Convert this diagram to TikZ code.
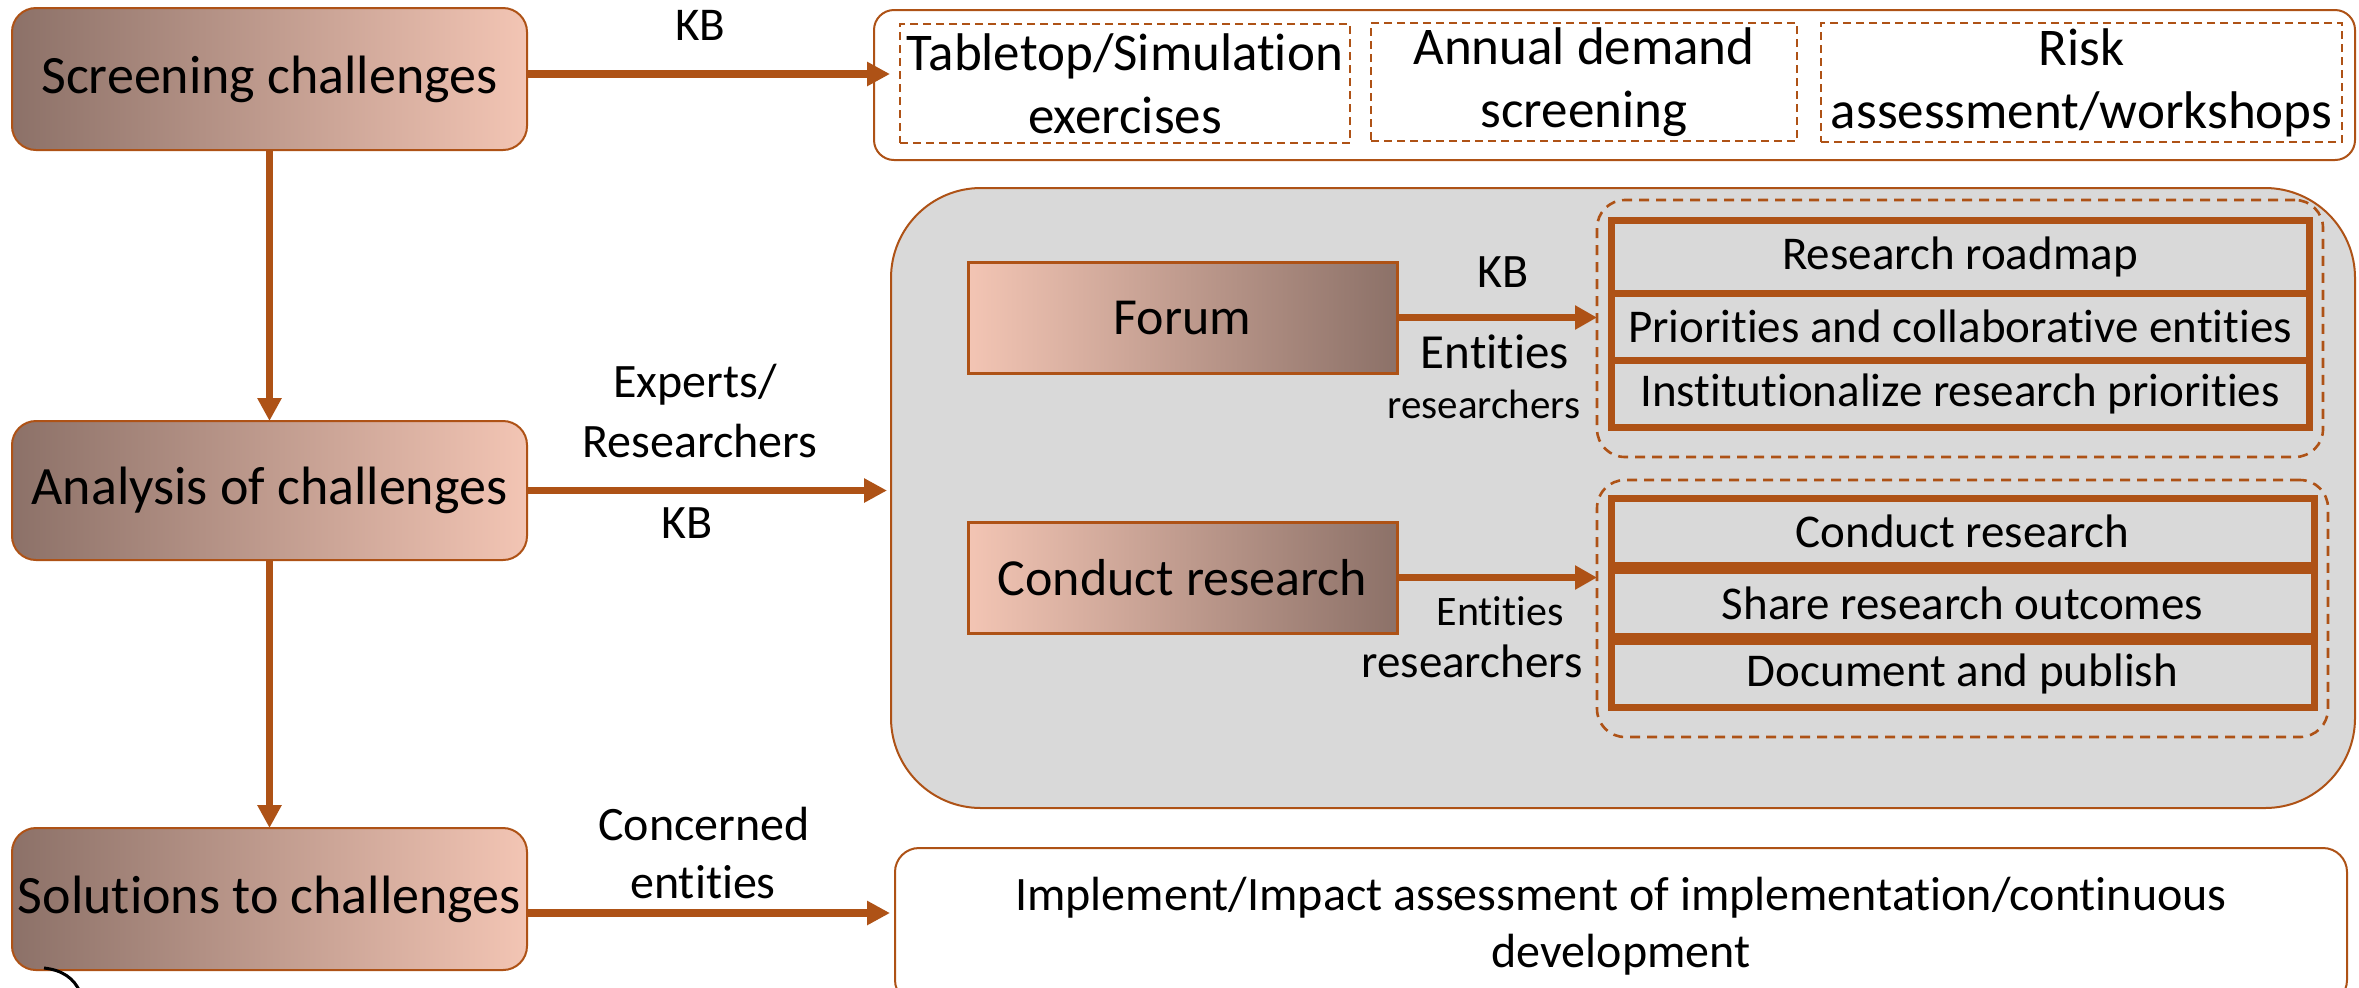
\documentclass[tikz,border=0pt]{standalone}
\usepackage{fontspec}
\setmainfont{Carlito}[Ligatures=NoCommon]
\usetikzlibrary{arrows.meta}
\definecolor{brn}{RGB}{174,82,22}
\definecolor{dk}{RGB}{140,113,104}
\definecolor{lt}{RGB}{243,197,180}
\definecolor{gr}{RGB}{217,217,217}
\begin{document}
\begin{tikzpicture}[x=0.5pt,y=-0.5pt,
 box/.style 2 args={inner sep=0pt,outer sep=0pt,minimum width=#1,minimum height=#2,anchor=center},
 leftbox/.style={draw=brn,line width=1pt,rounded corners=12pt,left color=dk,right color=lt,align=center,font=\fontsize{27}{32}\selectfont},
 midbox/.style={draw=brn,line width=1.5pt,left color=lt,right color=dk,font=\fontsize{26}{31}\selectfont},
 dashbox/.style={draw=brn,line width=1.2pt,dash pattern=on 4pt off 2.5pt,align=center,font=\fontsize{26.5}{31.5}\selectfont},
 grpbox/.style={draw=brn,line width=1.3pt,dash pattern=on 5pt off 3.5pt,rounded corners=14pt},
 rowbox/.style={draw=brn,line width=3.5pt,font=\fontsize{23.5}{28}\selectfont},
 lbl/.style={inner sep=0pt,anchor=base,font=\fontsize{24}{28}\selectfont},
 arr/.style={draw=brn,line width=3.8pt,-{Triangle[length=11.5pt,width=11.5pt]}},
 arrs/.style={draw=brn,line width=3.5pt,-{Triangle[length=11pt,width=11.5pt]}},
]
\useasboundingbox (0,0) rectangle (2359,987);
\clip (0,0) rectangle (2359,987);
\fill[white] (0,0) rectangle (2359,987);

% left column
\node[box={257.5pt}{71pt},leftbox] (scr) at (269.5,79) {Screening challenges};
\node[box={257.5pt}{69.5pt},leftbox] (ana) at (269.5,490.5) {Analysis of challenges};
\node[box={257.5pt}{71pt},leftbox] (sol) at (269.5,899) {Solutions to challenges};

% top box
\node[box={740.5pt}{75pt},draw=brn,line width=1pt,rounded corners=10pt] (top) at (1614.5,85) {};
\node[box={225pt}{59.5pt},dashbox] (t1) at (1125,83.5) {Tabletop/Simulation\\exercises};
\node[box={213pt}{59pt},dashbox] (t2) at (1584,82) {Annual demand\\screening};
\node[box={260.5pt}{59.5pt},dashbox] (t3) at (2081.5,82.5) {Risk\\assessment/workshops};

% gray box
\node[box={732pt}{310pt},draw=brn,line width=1pt,fill=gr,rounded corners=45pt] (gray) at (1623,498) {};
\node[box={214.5pt}{55.5pt},midbox] (forum) at (1182.5,317.5) {Forum};
\node[box={214.5pt}{55.5pt},midbox] (cond) at (1182.5,577.5) {Conduct research};

\node[box={363pt}{128.5pt},grpbox] (g1) at (1960,328.5) {};
\node[box={349pt}{36.5pt},rowbox] (r1) at (1960,256.5) {Research roadmap};
\node[box={349pt}{33.5pt},rowbox] (r2) at (1960,326.5) {Priorities and collaborative entities};
\node[box={349pt}{33.5pt},rowbox] (r3) at (1960,393.5) {Institutionalize research priorities};

\node[box={365.5pt}{128.5pt},grpbox] (g2) at (1962.5,608.5) {};
\node[box={351.5pt}{33.5pt},rowbox] (c1) at (1962.5,531.5) {Conduct research};
\node[box={351.5pt}{33pt},rowbox] (c2) at (1962.5,603) {Share research outcomes};
\node[box={351.5pt}{33pt},rowbox] (c3) at (1962.5,674) {Document and publish};

% bottom box
\node[box={726pt}{78pt},draw=brn,line width=1pt,rounded corners=12pt,align=center,font=\fontsize{24}{28.5}\selectfont] (bot) at (1621,926) {Implement/Impact assessment of implementation/continuous\\development};

% labels
\node[lbl,font=\fontsize{23.5}{28}\selectfont] (kb1) at (700,40) {KB};
\node[lbl] (ex) at (695,397) {Experts/};
\node[lbl] (res) at (700,457) {Researchers};
\node[lbl] (kb2) at (687,538) {KB};
\node[lbl] (con) at (704,840) {Concerned};
\node[lbl] (ent) at (703,898) {entities};
\node[lbl] (kb3) at (1503,287) {KB};
\node[lbl,font=\fontsize{24.5}{28}\selectfont] (ent1) at (1495,368) {Entities};
\node[lbl,font=\fontsize{20.5}{24}\selectfont] (rs1) at (1484,418) {researchers};
\node[lbl,font=\fontsize{21}{24}\selectfont] (ent2) at (1500,625) {Entities};
\node[lbl,font=\fontsize{23.5}{28}\selectfont] (rs2) at (1472,677) {researchers};

% connectors
\draw[arr,shorten >=5pt] ([yshift=2.5pt]scr.east) -- ([yshift=2.5pt]scr.east -| t1.west);
\draw[arr,shorten >=2pt] (ana.east) -- (ana.east -| gray.west);
\draw[arr,shorten >=2.5pt] ([yshift=-7pt]sol.east) -- ([yshift=-7pt]sol.east -| bot.west);
\draw[arr] (scr.south) -- (ana.north);
\draw[arr] (ana.south) -- (sol.north);
\draw[arrs] (forum.east) -- (forum.east -| g1.west);
\draw[arrs] (cond.east) -- (cond.east -| g2.west);

% cut-off fragment at bottom left
\draw[black,line width=1.5pt] (44,968) .. controls (62,970) and (74,978) .. (80,992);
\end{tikzpicture}
\end{document}
